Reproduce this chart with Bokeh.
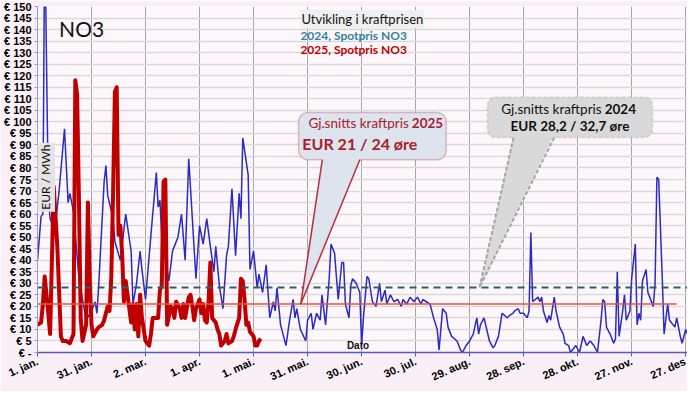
import math
from bokeh.plotting import figure
from bokeh.models import FixedTicker, Label, BoxAnnotation, PolyAnnotation
from bokeh.embed import file_html
from bokeh.resources import INLINE

# ---------------- data ----------------
tick_days = [0, 30, 60, 90, 120, 150, 180, 210, 240, 270, 300, 330, 360]
tick_labels = ["1. jan.", "31. jan.", "2. mar.", "1. apr.", "1. mai.", "31. mai.",
               "30. jun.", "30. jul.", "29. aug.", "28. sep.", "28. okt.", "27. nov.", "27. des"]
y_ticks = list(range(0, 155, 5))

days_2024 = [0, 2, 3, 4, 6, 7, 9, 10, 12,
             15, 17, 18, 20, 23, 27, 30, 32, 33, 34,
             37, 38, 39, 42, 43, 46, 49, 52, 53, 55,
             57, 58, 60, 63, 66, 67, 68, 69, 73, 75,
             76, 78, 80, 82, 84, 86, 88, 90, 92, 94,
             96, 98, 99, 101, 103, 105, 106, 108, 110, 112,
             113, 114, 117, 118, 120, 122, 123, 125, 127, 129,
             131, 132, 133, 135, 138, 140, 142, 143, 144, 146,
             149, 150, 152, 153, 155, 157, 158, 160, 162, 163,
             165, 167, 169, 170, 171, 173, 174, 175, 177, 179,
             180, 181, 183, 184, 186, 188, 190, 191, 193, 194,
             196, 198, 200, 202, 203, 205, 207, 209, 211, 213,
             214, 216, 218, 220, 222, 223, 225, 227, 228, 230,
             233, 235, 236, 238, 240, 242, 244, 245, 246, 248,
             251, 253, 254, 256, 258, 261, 262, 264, 265, 267,
             268, 270, 272, 273, 274, 275, 278, 279, 280, 281,
             283, 284, 285, 287, 288, 290, 292, 293, 295, 296,
             299, 301, 303, 305, 307, 309, 311, 313, 314, 315,
             316, 318, 320, 321, 322, 323, 325, 326, 327, 329,
             330, 332, 333, 334, 335, 336, 338, 339, 340, 342,
             343, 344, 345, 347, 348, 350, 351, 352, 354, 355,
             357, 358, 360, 362]
spot_2024 = [40, 59, 60, 185, 68, 58, 54, 56, 70,
             97, 65, 69, 61, 32, 14, 18, 22, 17, 29,
             74, 81, 68, 58, 48, 40, 60, 44, 21, 30,
             44, 36, 23, 51, 78, 63, 66, 50, 31, 44,
             46, 50, 60, 40, 84, 58, 32, 55, 47, 58,
             46, 35, 46, 29, 19, 42, 46, 71, 42, 69,
             58, 93, 77, 36, 44, 28, 34, 26, 38, 15,
             22, 18, 28, 12, 3, 14, 23, 15, 19, 10,
             5, 14, 17, 10, 17, 14, 25, 12, 32, 47,
             43, 23, 39, 39, 21, 15, 29, 32, 30, 26,
             3, 15, 33, 32, 22, 20, 30, 22, 27, 21,
             25, 22, 23, 20, 23, 21, 24, 22, 24, 21,
             23, 22, 21, 15, 10, 1, 19, 17, 11, 7,
             5, 1, 0, 3, 5, 8, 15, 8, 12, 15,
             5, 2, 3, 7, 17, 15, 16, 17, 18, 19,
             17, 17, 15, 18, 52, 22, 24, 22, 24, 18,
             13, 16, 14, 24, 18, 11, 8, 4, 3, 0,
             3, 0, 7, 3, 5, 3, 0, 14, 23, 22,
             11, 8, 4, 6, 35, 7, 18, 25, 14, 18,
             32, 47, 12, 17, 14, 31, 36, 26, 24, 20,
             30, 76, 75, 32, 8, 21, 14, 13, 11, 15,
             7, 4, 10, 6]

days_2025 = [0, 2, 3, 4, 6, 7, 9, 11, 13, 14,
             16, 18, 20, 21, 22, 23, 24, 25, 27, 28,
             29, 30, 31, 33, 34, 36, 37, 39, 40, 41,
             42, 43, 44, 45, 46, 47, 48, 49, 50, 52,
             53, 54, 55, 56, 57, 58, 60, 62, 63, 64,
             66, 67, 68, 69, 70, 71, 72, 74, 75, 76,
             77, 79, 80, 81, 82, 84, 85, 86, 87, 88,
             90, 91, 92, 93, 94, 95, 96, 97, 99, 100,
             101, 102, 104, 105, 106, 108, 109, 110, 112, 113,
             114, 115, 116, 117, 118, 120, 121, 122, 123, 124]
spot_2025 = [12, 13, 21, 33, 17, 8, 72, 46, 7, 5,
             5, 4, 8, 118, 112, 67, 15, 5, 12, 65,
             32, 12, 7, 10, 11, 12, 14, 20, 18, 33,
             70, 113, 115, 51, 55, 43, 22, 31, 25, 13,
             21, 10, 21, 7, 25, 15, 5, 3, 8, 15,
             15, 15, 27, 29, 74, 75, 12, 20, 19, 15,
             22, 19, 15, 21, 15, 24, 25, 20, 14, 19,
             23, 17, 21, 14, 13, 22, 39, 15, 13, 10,
             8, 3, 5, 8, 4, 5, 7, 10, 15, 32,
             31, 23, 12, 13, 9, 7, 3, 3, 5, 6]

avg_2024 = 28.2
avg_2025 = 21.0

# ---------------- figure ----------------
AX_FONT = "Liberation Sans"
TX_FONT = "Lato"

p = figure(width=687, height=391, x_range=(0, 361), y_range=(0, 150),
           output_backend="svg", toolbar_location=None,
           min_border_top=6, min_border_right=0, min_border_left=30, min_border_bottom=30)
p.background_fill_color = "#fdf7fb"
p.border_fill_color = "#f9f0f7"
p.outline_line_color = None

p.xaxis.ticker = FixedTicker(ticks=tick_days)
p.xaxis.major_label_overrides = {d: l for d, l in zip(tick_days, tick_labels)}
p.xaxis.major_label_orientation = 0.42
p.xaxis.major_label_text_font = AX_FONT
p.xaxis.major_label_text_font_style = "bold"
p.xaxis.major_label_text_font_size = "11px"
p.xaxis.major_label_text_color = "#000000"
p.xaxis.axis_line_color = "#5a5ab4"
p.xaxis.axis_line_width = 1.5
p.xaxis.major_tick_line_color = "#5a5ab4"
p.xaxis.major_tick_in = 0
p.xaxis.major_tick_out = 4
p.xaxis.minor_tick_line_color = None
p.xaxis.major_label_standoff = 4

p.yaxis.ticker = FixedTicker(ticks=y_ticks)
p.yaxis.major_label_overrides = {v: ("€ -" if v == 0 else f"€ {v}") for v in y_ticks}
p.yaxis.major_label_text_font = AX_FONT
p.yaxis.major_label_text_font_style = "bold"
p.yaxis.major_label_text_font_size = "11px"
p.yaxis.major_label_text_color = "#000000"
p.yaxis.axis_line_color = "#9a9ac8"
p.yaxis.major_tick_line_color = "#9a9ac8"
p.yaxis.major_tick_in = 0
p.yaxis.major_tick_out = 3
p.yaxis.minor_tick_line_color = None
p.yaxis.major_label_standoff = 3

p.xgrid.grid_line_color = "#a6a6a6"
p.xgrid.grid_line_width = 1
p.ygrid.grid_line_color = "#d9d9d9"
p.ygrid.grid_line_width = 1.3

# ---------------- series ----------------
p.line(days_2024, spot_2024, line_color="#2b2bc4", line_width=1.5)
p.line(days_2025, spot_2025, line_color="#c00000", line_width=4, line_join="round")

p.line([0, 361], [avg_2024, avg_2024], line_color="#2f5e6a", line_width=2, line_dash="7 5")
p.line([0, 355], [avg_2025, avg_2025], line_color="#e5553a", line_width=1.5)

# ---------------- callout 2025 ----------------
c25_fill = "#dde4ee"
c25_line = "#b5303c"
p.add_layout(BoxAnnotation(left=145, right=227, bottom=83.6, top=104,
                           fill_color=c25_fill, fill_alpha=1,
                           line_color=c25_line, line_width=1.5, border_radius=9))
p.add_layout(PolyAnnotation(xs=[158.2, 146.2, 179], ys=[84.8, avg_2025, 84.8],
                            fill_color=c25_fill, fill_alpha=1, line_alpha=0))
p.multi_line(xs=[[158.2, 146.2], [179, 146.2]], ys=[[83.6, avg_2025], [83.6, avg_2025]],
             line_color=c25_line, line_width=1.5, level="overlay")

tc25 = "#a8202c"
p.add_layout(Label(x=207.9, y=99.6, text="Gj.snitts kraftpris", x_offset=-3,
                   text_align="right", text_baseline="middle", text_font=TX_FONT,
                   text_font_size="13.5px", text_color=tc25))
p.add_layout(Label(x=207.9, y=99.6, text="2025", text_align="left", text_baseline="middle",
                   text_font=TX_FONT, text_font_size="13.5px", text_font_style="bold",
                   text_color=tc25))
p.add_layout(Label(x=147.1, y=90.4, text="EUR 21 / 24 øre", text_align="left",
                   text_baseline="middle", text_font=TX_FONT, text_font_size="16px",
                   text_font_style="bold", text_color=tc25))

# ---------------- callout 2024 ----------------
c24_fill = "#d9d9d9"
c24_line = "#a6a6a6"
p.add_layout(BoxAnnotation(left=249.9, right=341.5, bottom=93.2, top=110.7,
                           fill_color=c24_fill, fill_alpha=1,
                           line_color=c24_line, line_width=2, line_dash="4 2",
                           border_radius=8))
p.add_layout(PolyAnnotation(xs=[264.4, 245.5, 287], ys=[94.4, avg_2024, 94.4],
                            fill_color=c24_fill, fill_alpha=1, line_alpha=0))
p.multi_line(xs=[[264.4, 245.5], [287, 245.5]], ys=[[93.2, avg_2024], [93.2, avg_2024]],
             line_color=c24_line, line_width=2, line_dash="4 2", level="overlay")

p.add_layout(Label(x=315, y=105.7, text="Gj.snitts kraftpris", x_offset=-3,
                   text_align="right", text_baseline="middle", text_font=TX_FONT,
                   text_font_size="13.5px", text_color="#111111"))
p.add_layout(Label(x=315, y=105.7, text="2024", text_align="left", text_baseline="middle",
                   text_font=TX_FONT, text_font_size="13.5px", text_font_style="bold",
                   text_color="#111111"))
p.add_layout(Label(x=295.7, y=98.3, text="EUR 28,2 / 32,7 øre", text_align="center",
                   text_baseline="middle", text_font=TX_FONT, text_font_size="13.5px",
                   text_font_style="bold", text_color="#111111"))

# ---------------- titles / legend ----------------
p.add_layout(Label(x=12, y=146, text="NO3", text_align="left", text_baseline="top",
                   text_font=TX_FONT, text_font_size="21px", text_color="#111111"))
p.add_layout(Label(x=146, y=148.5, text="Utvikling i kraftprisen", text_align="left",
                   text_baseline="top", text_font=TX_FONT, text_font_size="13px",
                   text_color="#111111", background_fill_color="#f0f0f0",
                   background_fill_alpha=1, padding=1))
p.add_layout(Label(x=146, y=137.4, text="2024, Spotpris NO3", text_align="left",
                   text_baseline="middle", text_font=TX_FONT, text_font_size="12px",
                   text_font_style="bold", text_color="#31849b"))
p.add_layout(Label(x=146, y=131.2, text="2025, Spotpris NO3", text_align="left",
                   text_baseline="middle", text_font=TX_FONT, text_font_size="12px",
                   text_font_style="bold", text_color="#c00000"))
# annotations are clipped to the plot frame, so keep these inside it
p.add_layout(Label(x=0, y=76, x_offset=8, text="EUR / MWh", angle=math.pi / 2,
                   text_align="center", text_baseline="middle", text_font=TX_FONT,
                   text_font_size="12px", text_color="#111111",
                   background_fill_color="#e4e4e4", background_fill_alpha=1, padding=2,
                   level="overlay"))
p.add_layout(Label(x=178, y=0, y_offset=2, text="Dato", text_align="center",
                   text_baseline="bottom", text_font=AX_FONT, text_font_size="10px",
                   text_font_style="bold", text_color="#111111"))

open("out.html", "w").write(file_html(p, INLINE))
